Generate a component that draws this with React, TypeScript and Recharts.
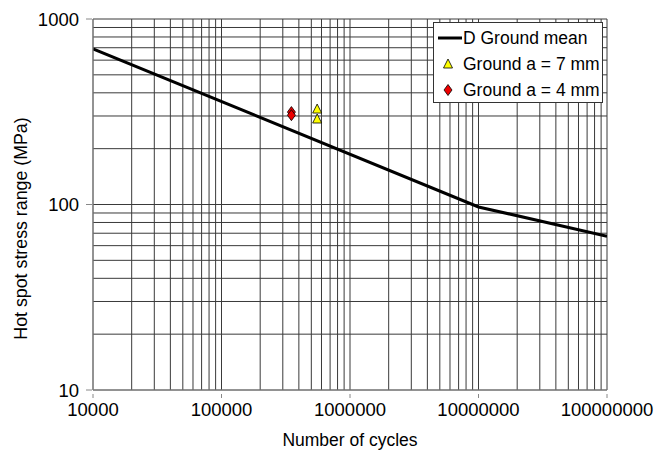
import React from "react";
import {
  ComposedChart,
  Line,
  Scatter,
  XAxis,
  YAxis,
  CartesianGrid,
} from "recharts";

// D curve (ground, mean)
const curveCycles = [10000, 10000000, 100000000];
const curveStress = [690, 97, 67.5];

// test results
const a7Cycles = [555000, 555000];
const a7Stress = [327, 289];
const a4Cycles = [350000, 350000];
const a4Stress = [315, 303];

// labelled ticks
const xTicks = [10000, 100000, 1000000, 10000000, 100000000];
const yTicks = [10, 100, 1000];

// every grid line (1..9 per decade)
const xGrid = [
  10000, 20000, 30000, 40000, 50000, 60000, 70000, 80000, 90000,
  100000, 200000, 300000, 400000, 500000, 600000, 700000, 800000, 900000,
  1000000, 2000000, 3000000, 4000000, 5000000, 6000000, 7000000, 8000000, 9000000,
  10000000, 20000000, 30000000, 40000000, 50000000, 60000000, 70000000, 80000000, 90000000,
  100000000,
];
const yGrid = [
  10, 20, 30, 40, 50, 60, 70, 80, 90,
  100, 200, 300, 400, 500, 600, 700, 800, 900,
  1000,
];

const curveData = curveCycles.map((n, i) => ({ n, s: curveStress[i] }));
const a7Data = a7Cycles.map((n, i) => ({ n, s: a7Stress[i] }));
const a4Data = a4Cycles.map((n, i) => ({ n, s: a4Stress[i] }));

const FONT = "'Liberation Sans', Arial, sans-serif";

function XTick({ x, y, payload }: any) {
  if (!xTicks.includes(payload.value)) return null;
  return (
    <g>
      <line x1={x} y1={y - 4} x2={x} y2={y} stroke="#888" />
      <text
        x={x}
        y={y + 18}
        textAnchor="middle"
        fill="#000"
        fontSize={18.5}
        fontFamily={FONT}
      >
        {payload.value}
      </text>
    </g>
  );
}

function YTick({ x, y, payload }: any) {
  if (!yTicks.includes(payload.value)) return null;
  return (
    <g>
      <line x1={x + 1} y1={y} x2={x + 7} y2={y} stroke="#888" />
      <text
        x={x - 6}
        y={y + 6.5}
        textAnchor="end"
        fill="#000"
        fontSize={18.5}
        fontFamily={FONT}
      >
        {payload.value}
      </text>
    </g>
  );
}

function Triangle({ cx, cy }: any) {
  return (
    <polygon
      points={`${cx},${cy - 5} ${cx + 4.5},${cy + 4} ${cx - 4.5},${cy + 4}`}
      fill="#ffff00"
      stroke="#000"
      strokeWidth={0.8}
    />
  );
}

function Diamond({ cx, cy }: any) {
  return (
    <polygon
      points={`${cx},${cy - 5.5} ${cx + 4},${cy} ${cx},${cy + 5.5} ${cx - 4},${cy}`}
      fill="#ee0000"
      stroke="#000"
      strokeWidth={0.8}
    />
  );
}

function LegendBox() {
  const row = { display: "flex", alignItems: "center", height: 26 } as const;
  return (
    <div
      style={{
        position: "absolute",
        left: 433,
        top: 22,
        border: "1px solid #333",
        background: "#fff",
        width: 170,
        height: 81,
        boxSizing: "border-box",
        padding: "2px 0 0 3px",
        fontFamily: FONT,
        fontSize: 17.5,
        color: "#000",
        lineHeight: "18px",
      }}
    >
      <div style={row}>
        <svg width={26} height={10}>
          <line x1={1} y1={5} x2={25} y2={5} stroke="#000" strokeWidth={3} />
        </svg>
        <span>D Ground mean</span>
      </div>
      <div style={row}>
        <svg width={26} height={12}>
          <Triangle cx={11} cy={6} />
        </svg>
        <span>Ground a = 7 mm</span>
      </div>
      <div style={row}>
        <svg width={26} height={12}>
          <Diamond cx={11} cy={6} />
        </svg>
        <span>Ground a = 4 mm</span>
      </div>
    </div>
  );
}

export default function App() {
  return (
    <div style={{ width: 664, height: 452, background: "#fff", position: "relative" }}>
      <style>{`body{margin:0}`}</style>
      <ComposedChart
        width={664}
        height={452}
        margin={{ top: 19, right: 57, bottom: 0, left: 0 }}
      >
        <CartesianGrid stroke="#3a3a3a" strokeWidth={1} />
        <XAxis
          dataKey="n"
          type="number"
          scale="log"
          domain={[10000, 100000000]}
          ticks={xGrid}
          interval={0}
          allowDataOverflow
          height={62}
          tick={<XTick />}
          tickLine={false}
          axisLine={{ stroke: "#888" }}
          label={{
            content: ({ viewBox }: any) => (
              <text
                x={viewBox.x + viewBox.width / 2}
                y={446}
                textAnchor="middle"
                fill="#000"
                fontSize={17.5}
                fontFamily={FONT}
              >
                Number of cycles
              </text>
            ),
          }}
        />
        <YAxis
          dataKey="s"
          type="number"
          scale="log"
          domain={[10, 1000]}
          ticks={yGrid}
          interval={0}
          allowDataOverflow
          width={93}
          tick={<YTick />}
          tickLine={false}
          axisLine={{ stroke: "#888" }}
          label={{
            content: ({ viewBox }: any) => {
              const cx = 21;
              const cy = viewBox.y + viewBox.height / 2 + 24;
              return (
                <text
                  x={cx}
                  y={cy}
                  transform={`rotate(-90, ${cx}, ${cy})`}
                  textAnchor="middle"
                  dominantBaseline="central"
                  fill="#000"
                  fontSize={17.8}
                  fontFamily={FONT}
                >
                  Hot spot stress range (MPa)
                </text>
              );
            },
          }}
        />
        <Line
          data={curveData}
          dataKey="s"
          type="linear"
          stroke="#000"
          strokeWidth={3}
          dot={false}
          isAnimationActive={false}
        />
        <Scatter data={a4Data} dataKey="s" shape={Diamond} isAnimationActive={false} />
        <Scatter data={a7Data} dataKey="s" shape={Triangle} isAnimationActive={false} />
      </ComposedChart>
      <LegendBox />
    </div>
  );
}
